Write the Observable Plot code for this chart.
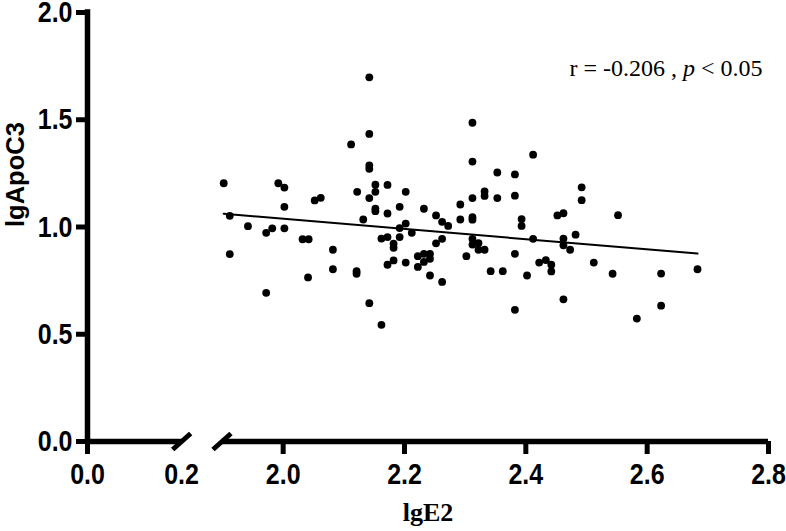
<!DOCTYPE html>
<html><head><meta charset="utf-8">
<script src="https://cdn.jsdelivr.net/npm/d3@7"></script>
<script src="https://cdn.jsdelivr.net/npm/@observablehq/plot@0.6"></script>
<style>html,body{margin:0;padding:0;background:#fff;}</style>
</head><body><div id="chart"></div>
<script>
const lgE2 = [1.902,1.912,1.912,1.942,1.972,1.972,1.982,1.992,2.002,2.002,2.002,2.032,2.042,2.041,2.052,2.062,2.082,2.082,2.112,2.122,2.121,2.121,2.132,
  2.142,2.142,2.142,2.142,2.142,2.142,
  2.152,2.152,2.152,2.152,
  2.162,2.162,
  2.172,2.172,2.172,2.172,
  2.182,2.182,2.182,
  2.192,2.192,2.192,
  2.202,2.202,2.202,
  2.212,
  2.222,2.222,
  2.232,2.232,2.232,
  2.242,2.242,2.242,
  2.252,2.252,
  2.262,2.262,2.262,
  2.272,
  2.292,2.292,
  2.302,
  2.312,2.312,2.312,2.312,2.312,2.312,2.312,
  2.322,2.322,
  2.332,2.332,2.332,
  2.342,
  2.353,2.353,
  2.362,
  2.382,2.382,2.382,2.382,
  2.393,2.393,
  2.402,
  2.412,2.412,
  2.422,
  2.433,
  2.442,2.442,
  2.452,
  2.462,2.462,2.462,2.462,
  2.473,
  2.482,
  2.492,2.492,
  2.512,
  2.543,
  2.552,
  2.583,
  2.623,2.623,
  2.683];
const lgApoC3 = [1.204,1.052,0.874,1.004,0.973,0.693,0.994,1.204,1.184,1.094,0.994,0.943,0.943,0.765,1.124,1.136,0.894,0.803,1.385,1.164,0.794,0.782,1.035,
  1.698,1.434,1.287,1.271,1.135,0.645,
  1.197,1.164,1.086,1.074,
  0.946,0.544,
  1.196,1.063,0.953,0.824,
  0.922,0.903,0.844,
  1.094,0.995,0.953,
  1.164,1.016,0.834,
  0.973,
  0.864,0.814,
  1.085,0.875,0.837,
  0.875,0.852,0.774,
  1.054,0.924,
  1.024,0.945,0.744,
  1.005,
  1.105,1.035,
  0.864,
  1.486,1.305,1.135,1.046,1.034,0.945,0.918,
  0.925,0.894,
  1.166,1.145,0.894,
  0.794,
  1.254,1.135,
  0.794,
  1.245,1.146,0.875,0.614,
  1.037,1.005,
  0.774,
  1.337,0.945,
  0.834,
  0.846,
  0.824,0.793,
  1.054,
  1.064,0.946,0.915,0.663,
  0.894,
  0.964,
  1.185,1.125,
  0.834,
  0.782,
  1.055,
  0.573,
  0.783,0.633,
  0.803];
const fitX = [1.902, 2.683];
const fitY = [1.062, 0.876];
const xTicks = [0, 2.0, 2.2, 2.4, 2.6, 2.8];
const xBreakTicks = [0.2];
const yTicks = [0, 0.5, 1.0, 1.5, 2.0];
const xAxisSegments = [[0, 0.2064], [1.879, 2.8]];
const xBreaks = [0.2064, 1.879];
const xTitle = "lgE2";
const yTitle = "lgApoC3";
const noteA = "r = -0.206 , ", noteP = "p", noteB = " < 0.05";
const note = noteA + noteP + noteB;

const points = lgE2.map((x, i) => ({x, y: lgApoC3[i]}));
const fit = fitX.map((x, i) => ({x, y: fitY[i]}));
const slash = {draw(ctx) { ctx.moveTo(-9, 8); ctx.lineTo(9, -8); }};
const fmt = d3.format(".1f");
const sans = "'Liberation Sans', Arial, sans-serif";
const serif = "'Liberation Serif', 'Times New Roman', serif";

const chart = Plot.plot({
  width: 786, height: 531,
  marginLeft: 87, marginRight: 18, marginTop: 12, marginBottom: 90,
  style: {fontFamily: sans, background: "#fff", color: "#000"},
  x: {type: "linear", domain: [0, 0.2, 1.9, 2.8], range: [87, 181, 222, 768]},
  y: {domain: [0, 2], range: [441, 12]},
  marks: [
    Plot.ruleX([0], {y1: 0, y2: 2, strokeWidth: 5.5, strokeLinecap: "square", stroke: "#000"}),
    Plot.ruleY(xAxisSegments, {y: 0, x1: d => d[0], x2: d => d[1], strokeWidth: 5.5, stroke: "#000"}),
    Plot.dot(xBreaks, {x: d => d, y: 0, symbol: slash, stroke: "#000", strokeWidth: 5, fill: "none"}),
    Plot.axisX(xTicks, {tickSize: 13, strokeWidth: 5, tickPadding: 8, fontSize: 25, fontWeight: "bold", tickFormat: fmt, label: null}),
    Plot.axisX(xBreakTicks, {tickSize: 0, tickPadding: 21, fontSize: 25, fontWeight: "bold", tickFormat: fmt, label: null}),
    Plot.axisY(yTicks, {tickSize: 11, strokeWidth: 5, tickPadding: 4, fontSize: 25, fontWeight: "bold", tickFormat: fmt, label: null}),
    Plot.line(fit, {x: "x", y: "y", stroke: "#000", strokeWidth: 2}),
    Plot.dot(points, {x: "x", y: "y", r: 3.9, fill: "#000"}),
    Plot.text([xTitle], {text: d => d, frameAnchor: "bottom", dy: 79, lineAnchor: "bottom", fontFamily: serif, fontWeight: "bold", fontSize: 26, fill: "#000"}),
    Plot.text([yTitle], {text: d => d, frameAnchor: "left", dx: -72, rotate: -90, lineAnchor: "middle", fontWeight: "bold", fontSize: 25.5, fill: "#000"}),
    Plot.text([note], {text: d => d, frameAnchor: "top-right", dx: -6, dy: 63, textAnchor: "end", lineAnchor: "bottom", fontFamily: serif, fontSize: 24, fill: "#000"})
  ]
});
document.getElementById("chart").appendChild(chart);

// stretch tick labels vertically like the reference
chart.querySelectorAll('g[aria-label$="tick label"] text').forEach(t => {
  const x = +t.getAttribute("x") || 0, y = +t.getAttribute("y") || 0;
  const tr = t.getAttribute("transform") || "";
  t.setAttribute("transform", `${tr} translate(${x},${y}) scale(1,1.2) translate(${-x},${-y})`);
});
// italic p in the annotation
chart.querySelectorAll("text").forEach(t => {
  if (t.textContent === note) {
    t.textContent = "";
    t.setAttribute("style", (t.getAttribute("style") || "") + ";white-space:pre");
    const ns = "http://www.w3.org/2000/svg";
    [[noteA, null], [noteP, "italic"], [noteB, null]].forEach(([s, st]) => {
      const ts = document.createElementNS(ns, "tspan");
      ts.textContent = s;
      if (st) ts.setAttribute("font-style", st);
      t.appendChild(ts);
    });
  }
});
</script>
</body></html>
